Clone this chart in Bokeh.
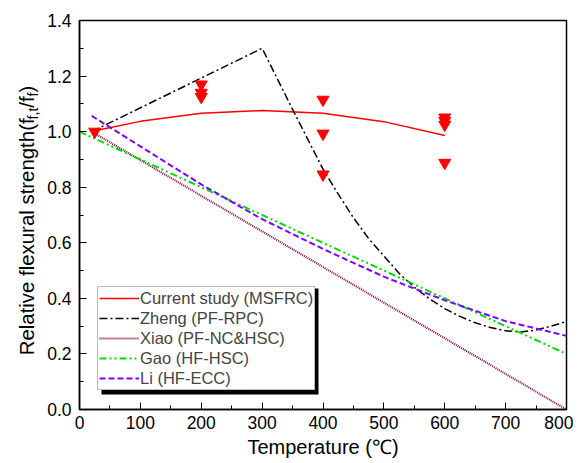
from math import pi
from bokeh.plotting import figure
from bokeh.layouts import row
from bokeh.core.properties import value
from bokeh.models import (Range1d, Legend, LegendItem, BoxAnnotation,
                          FixedTicker, NumeralTickFormatter)
from bokeh.embed import file_html
from bokeh.resources import INLINE

# ---------------- data ----------------
cur_x = [25, 100, 200, 300, 400, 500, 600]
cur_y = [1.003, 1.037, 1.066, 1.076, 1.066, 1.036, 0.986]

zheng_x = [20, 300, 350, 400, 425, 450, 475, 500, 525, 550, 575, 600, 625, 650,
           675, 700, 725, 750, 775, 800]
zheng_y = [1.0, 1.3, 1.08, 0.865, 0.775, 0.69, 0.615, 0.553, 0.49, 0.44, 0.398,
           0.363, 0.335, 0.312, 0.295, 0.283, 0.279, 0.286, 0.3, 0.317]

xiao_x = [20, 800]
xiao_y = [1.0, 0.0]

gao_x = [0, 800]
gao_y = [1.0, 0.2]

li_x = [20, 100, 200, 300, 400, 500, 600, 700, 800]
li_y = [1.057, 0.947, 0.81, 0.685, 0.578, 0.478, 0.393, 0.318, 0.265]

exp_x = [25, 200, 200, 200, 400, 400, 400, 600, 600, 600, 600]
exp_y = [1.0, 1.17, 1.14, 1.125, 1.115, 0.993, 0.846, 1.051, 1.039, 1.025, 0.888]

series_names = ["Current study (MSFRC)", "Zheng (PF-RPC)", "Xiao (PF-NC&HSC)",
                "Gao (HF-HSC)", "Li (HF-ECC)"]

x_ticks = [0, 100, 200, 300, 400, 500, 600, 700, 800]
x_minor = [50, 150, 250, 350, 450, 550, 650, 750]
y_ticks = [0.0, 0.2, 0.4, 0.6, 0.8, 1.0, 1.2, 1.4]
y_minor = [0.1, 0.3, 0.5, 0.7, 0.9, 1.1, 1.3]

x_label = "Temperature (\u2103)"
# y label pieces: (text, is_subscript)
y_label_parts = [("Relative flexural strength(f", False), ("f,t", True),
                 ("/f", False), ("f", True), (")", False)]

FONT = "Liberation Sans"
H = 460
TOP, BOTTOM = 20, H - 411

p = figure(width=531, height=H, output_backend="svg", toolbar_location=None,
           x_range=Range1d(0, 800), y_range=Range1d(0, 1.4),
           min_border_left=37, min_border_right=7, min_border_top=TOP,
           min_border_bottom=BOTTOM)
p.grid.visible = False
p.outline_line_color = "black"
p.outline_line_width = 1.5

p.xaxis.ticker = FixedTicker(ticks=x_ticks, minor_ticks=x_minor)
p.yaxis.ticker = FixedTicker(ticks=y_ticks, minor_ticks=y_minor)
p.yaxis.formatter = NumeralTickFormatter(format="0.0")
for ax in (p.xaxis[0], p.yaxis[0]):
    ax.major_tick_in = 7
    ax.major_tick_out = 0
    ax.minor_tick_in = 4
    ax.minor_tick_out = 0
    ax.axis_line_width = 1.5
    ax.axis_line_color = "black"
    ax.major_tick_line_color = "black"
    ax.minor_tick_line_color = "black"
    ax.major_label_text_font = FONT
    ax.major_label_text_font_size = "17.5px"
    ax.major_label_text_color = "black"
p.xaxis.major_label_standoff = 6
p.yaxis.major_label_standoff = 8
p.xaxis.axis_label = x_label
p.xaxis.axis_label_text_font = FONT
p.xaxis.axis_label_text_font_size = "20px"
p.xaxis.axis_label_text_font_style = "normal"
p.xaxis.axis_label_text_color = "black"
p.xaxis.axis_label_standoff = 4

r_cur = p.line(cur_x, cur_y, line_color="#FF0000", line_width=1.5)
r_zheng = p.line(zheng_x, zheng_y, line_color="black", line_width=1.5,
                 line_dash="8 3 2 3")
r_xiao = p.line(xiao_x, xiao_y, line_color="#800040", line_width=2,
                line_dash="1 1")
r_gao = p.line(gao_x, gao_y, line_color="#00DD00", line_width=2,
               line_dash="7 3 2 3 2 3")
r_li = p.line(li_x, li_y, line_color="#8000FF", line_width=2, line_dash="6 3")
p.scatter(exp_x, exp_y, marker="inverted_triangle", size=12, color="#FF0000")

# legend shadow
p.add_layout(BoxAnnotation(left=22, right=239, bottom=15, top=121,
                           left_units="screen", right_units="screen",
                           bottom_units="screen", top_units="screen",
                           fill_color="black", fill_alpha=1.0, line_alpha=0))

legend = Legend(items=[LegendItem(label=n, renderers=[r]) for n, r in
                       zip(series_names, [r_cur, r_zheng, r_xiao, r_gao, r_li])],
                location=(18, 19), padding=1, spacing=0, margin=0,
                glyph_width=40, glyph_height=20, label_height=20, label_standoff=1,
                label_text_font=FONT, label_text_font_size="16.5px",
                border_line_color="#777777", border_line_width=1,
                background_fill_color="white", background_fill_alpha=1.0)
p.add_layout(legend)

# ---------- y axis title, drawn as real text in a narrow side panel ----------
# its frame is aligned with the main frame (canvas rows 20..411)
LW = 42
FH = H - TOP - BOTTOM
q = figure(width=LW, height=H, output_backend="svg", toolbar_location=None,
           x_range=Range1d(0, LW), y_range=Range1d(0, FH),
           x_axis_location=None, y_axis_location=None,
           min_border_left=0, min_border_right=0, min_border_top=TOP,
           min_border_bottom=BOTTOM)
q.grid.visible = False
q.outline_line_color = None

W = {"R": .722, "e": .556, "l": .222, "a": .556, "t": .278, "i": .222, "v": .5,
     " ": .278, "f": .278, "x": .5, "u": .556, "r": .333, "s": .5, "n": .556,
     "g": .556, "h": .556, "(": .333, ")": .333, "/": .278, ",": .278}
FS_MAIN, FS_SUB = 20.4, 14.3
mid_main, mid_sub = 26.0, 32.2
pos = 411 - 356.5
main_t, main_x, main_y, sub_t, sub_x, sub_y = [], [], [], [], [], []
for txt, is_sub in y_label_parts:
    fs = FS_SUB if is_sub else FS_MAIN
    if is_sub:
        sub_t.append(txt); sub_x.append(mid_sub); sub_y.append(pos)
    else:
        main_t.append(txt); main_x.append(mid_main); main_y.append(pos)
    pos += sum(W[c] for c in txt) * fs

q.text(x=main_x, y=main_y, text=main_t, angle=pi / 2, text_font=value(FONT),
       text_font_size=f"{FS_MAIN}px", text_align="left",
       text_baseline="middle", text_color="black")
q.text(x=sub_x, y=sub_y, text=sub_t, angle=pi / 2, text_font=value(FONT),
       text_font_size=f"{FS_SUB}px", text_align="left",
       text_baseline="middle", text_color="black")

layout = row(q, p, spacing=0)
open("out.html", "w").write(file_html(layout, INLINE))
